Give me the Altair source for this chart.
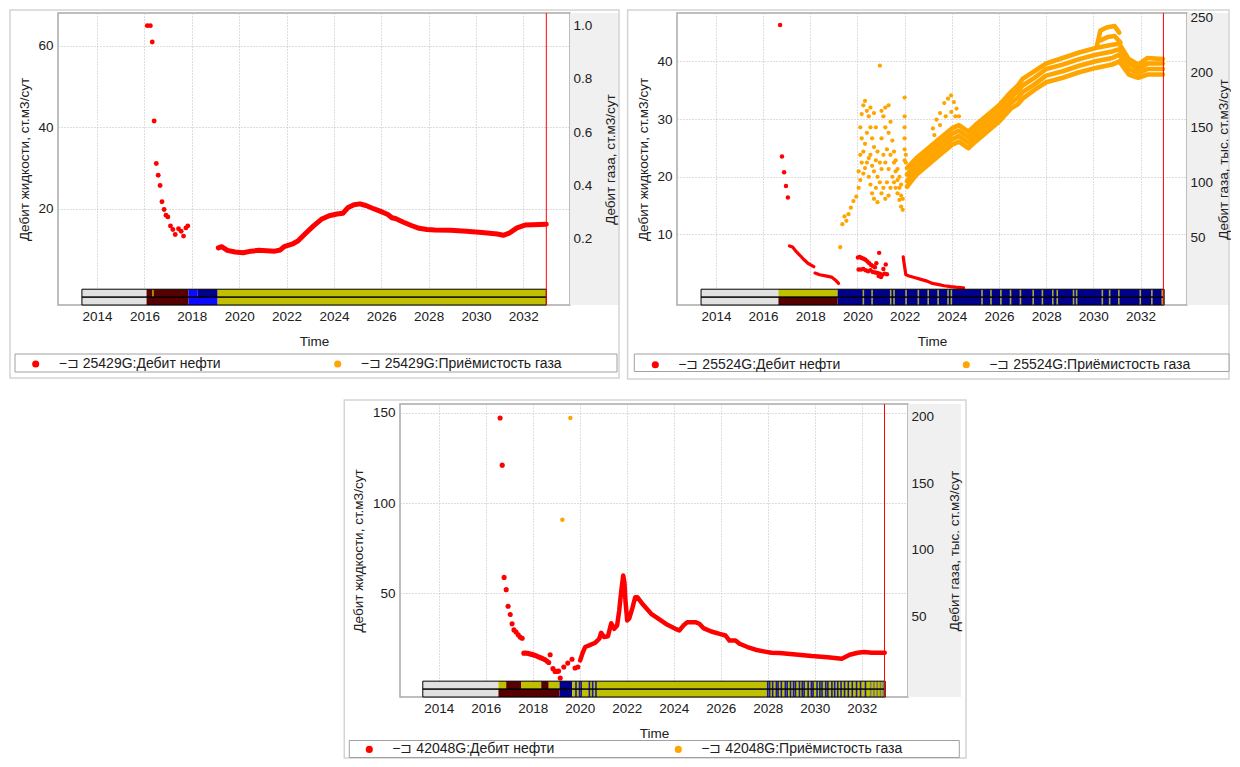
import altair as alt
import pandas as pd

FONT = "Liberation Sans"
TXT = "#202020"
RED = "#ff0000"
ORANGE = "#ffa500"
AXIS_BG = "#f0f0f0"
FRAME = "#d4d4d4"
LEG_BOX = "#a0a0a0"
C_LG, C_MR, C_OL, C_BL, C_NV = "#e1e1e1", "#570000", "#c0c000", "#0b0bff", "#00008b"
C_ST_OL, C_ST_NV, C_ST_GR = "#a8a83c", "#1a1aa6", "#7c7c66"

X_DOMAIN = [2012.35, 2033.97]
X_TICKS = [2014, 2016, 2018, 2020, 2022, 2024, 2026, 2028, 2030, 2032]
LIMIT_YEAR = 2032.97
STATUS_DOMAIN = [0, 37]
LEFT_TITLE = "Дебит жидкости, ст.м3/сут"
OIL = "Дебит нефти"
GAS = "Приёмистость газа"
PIN = "−⊐ "

# ---------------- Panel 1 : 25429G ----------------
P1_WELL = "25429G"
P1_RED_DOT_T = [2016.12, 2016.25, 2016.33, 2016.41, 2016.50, 2016.58, 2016.66, 2016.74, 2016.83, 2016.91,
                2016.99, 2017.10, 2017.20, 2017.30, 2017.44, 2017.55, 2017.65, 2017.75, 2017.83]
P1_RED_DOT_V = [64.9, 64.9, 60.9, 41.5, 31.1, 28.2, 25.7, 21.7, 19.8, 18.4,
                18.0, 15.8, 14.9, 13.7, 15.1, 14.5, 13.3, 15.3, 15.8]
P1_RED_LINE_T = [2019.12, 2019.26, 2019.50, 2019.83, 2020.17, 2020.50, 2020.83, 2021.16, 2021.50, 2021.74,
                 2021.90, 2022.23, 2022.48, 2022.81, 2023.14, 2023.47, 2023.80, 2024.13, 2024.38, 2024.60,
                 2024.85, 2025.10, 2025.35, 2025.60, 2025.95, 2026.28, 2026.45, 2026.60, 2026.94, 2027.27,
                 2027.60, 2027.93, 2028.26, 2028.93, 2029.59, 2030.25, 2030.90, 2031.15, 2031.40, 2031.73,
                 2032.07, 2032.40, 2032.97]
P1_RED_LINE_V = [10.4, 10.7, 9.8, 9.4, 9.2, 9.6, 9.8, 9.7, 9.6, 9.9,
                 10.7, 11.3, 12.1, 14.0, 15.8, 17.4, 18.3, 18.7, 18.9, 20.3,
                 21.0, 21.2, 20.8, 20.2, 19.4, 18.6, 17.8, 17.6, 16.7, 15.9,
                 15.2, 14.9, 14.8, 14.7, 14.5, 14.2, 13.8, 13.5, 14.0, 15.3,
                 16.0, 16.1, 16.2]
P1_YL_DOMAIN = [-3.6, 68.0]
P1_YL_TICKS = [20, 40, 60]
P1_YR_DOMAIN = [-0.05, 1.048]
P1_YR_TICKS = [0.2, 0.4, 0.6, 0.8, 1.0]
P1_YR_TITLE = "Дебит газа, ст.м3/сут"
P1_STATUS_TOP = [(2013.36, 2016.09, C_LG), (2016.09, 2017.86, C_MR), (2016.33, 2016.39, C_OL),
                 (2017.86, 2018.25, C_BL), (2018.25, 2019.09, C_NV), (2019.09, 2032.97, C_OL)]
P1_STATUS_BOTTOM = [(2013.36, 2016.09, C_LG), (2016.09, 2017.86, C_MR),
                    (2017.86, 2019.09, C_BL), (2019.09, 2032.97, C_OL)]

# ---------------- Panel 2 : 25524G ----------------
P2_WELL = "25524G"
P2_RED_DOT_T = [2016.72, 2016.80, 2016.89, 2016.97, 2017.05,
                2020.02, 2020.10, 2020.18, 2020.26, 2020.34, 2020.42, 2020.50, 2020.58, 2020.66, 2020.74, 2020.80,
                2020.05, 2020.15, 2020.25, 2020.35, 2020.45, 2020.55, 2020.65, 2020.75, 2020.85, 2020.95,
                2020.92, 2020.90, 2021.00, 2021.05, 2021.10, 2021.15, 2021.20, 2021.25]
P2_RED_DOT_V = [46.3, 23.5, 20.8, 18.4, 16.4,
                6.0, 6.1, 5.9, 5.8, 5.6, 5.3, 5.0, 4.7, 4.5, 4.3, 5.0,
                3.9, 3.9, 4.0, 3.8, 3.6, 3.8, 3.5, 3.4, 3.3, 3.2,
                6.8, 2.8, 2.6, 3.0, 4.0, 3.2, 4.8, 3.1]
P2_RED_A_T = [2017.12, 2017.25, 2017.41, 2017.58, 2017.74, 2017.90, 2018.07, 2018.15]
P2_RED_A_V = [8.0, 7.8, 7.0, 6.3, 5.6, 5.0, 4.6, 4.4]
P2_RED_B_T = [2018.20, 2018.40, 2018.65, 2018.90, 2019.06, 2019.20]
P2_RED_B_V = [3.3, 3.0, 2.8, 2.6, 2.1, 1.5]
P2_RED_C_T = [2021.94, 2021.97, 2022.00, 2022.05, 2022.19, 2022.45, 2022.69, 2022.95, 2023.18, 2023.45,
              2023.68, 2023.95, 2024.17, 2024.50]
P2_RED_C_V = [6.1, 5.2, 4.4, 3.0, 2.8, 2.5, 2.2, 1.9, 1.5, 1.3, 1.1, 0.95, 0.85, 0.74]
P2_ORG_DOT_T = [2019.27, 2019.36, 2019.45, 2019.53, 2019.62, 2019.72, 2019.83, 2019.95,
                2020.05, 2020.05, 2020.12, 2020.12, 2020.12, 2020.18, 2020.18, 2020.18,
                2020.25, 2020.25, 2020.25, 2020.32, 2020.32, 2020.32, 2020.40, 2020.40, 2020.40,
                2020.48, 2020.48, 2020.48, 2020.55, 2020.55, 2020.55, 2020.55,
                2020.62, 2020.62, 2020.62, 2020.70, 2020.70, 2020.70, 2020.70,
                2020.78, 2020.78, 2020.78, 2020.85, 2020.85, 2020.85, 2020.95, 2020.95, 2020.95,
                2021.02, 2021.02, 2021.02, 2021.02, 2021.10, 2021.10, 2021.10,
                2021.18, 2021.18, 2021.18, 2021.18, 2021.25, 2021.25,
                2021.32, 2021.32, 2021.32, 2021.32, 2021.40, 2021.40, 2021.40, 2021.48, 2021.48,
                2021.55, 2021.55, 2021.55, 2021.62, 2021.62, 2021.62, 2021.70, 2021.70, 2021.70,
                2021.78, 2021.78, 2021.78, 2021.85, 2021.85, 2021.85, 2021.92, 2021.92,
                2022.00, 2022.00, 2022.00, 2022.00, 2022.00, 2022.00, 2022.05, 2022.05,
                2023.20, 2023.35, 2023.50, 2023.68, 2023.84, 2023.97, 2024.09, 2024.20, 2024.30,
                2023.26, 2023.50, 2023.74, 2023.98, 2024.15]
P2_ORG_DOT_V = [41, 62, 69, 65, 71, 77, 83, 87,
                95, 110, 102, 125, 150, 118, 140, 162,
                108, 128, 170, 113, 135, 174, 118, 145, 165,
                105, 122, 160, 98, 125, 150, 168,
                90, 115, 140, 85, 110, 132, 163,
                95, 120, 150, 82, 105, 128, 206, 100, 118,
                90, 112, 140, 165, 95, 125, 160,
                85, 118, 150, 168, 100, 130,
                88, 112, 145, 170, 95, 125, 155, 105, 138,
                100, 118, 128, 95, 110, 120, 90, 102, 112,
                84, 95, 105, 78, 88, 98, 75, 85,
                177, 160, 150, 140, 130, 120, 125, 118,
                149, 157, 163, 172, 176, 179, 173, 167, 160,
                143, 152, 160, 164, 160]
P2_BAND_T = [2022.10, 2022.50, 2023.00, 2023.50, 2024.00, 2024.30, 2024.70, 2025.00, 2025.50, 2026.00,
             2026.50, 2026.80, 2027.00, 2027.50, 2028.00, 2028.70, 2029.40, 2030.10, 2030.80, 2031.10,
             2031.50, 2031.90, 2032.30, 2032.95]
P2_BAND_L0 = [96, 107, 116, 125, 134, 137, 131, 137, 146, 155, 167, 171, 176, 184, 191, 195, 200, 204, 207, 210,
              198, 195, 198, 198]
P2_BAND_L1 = [101, 112, 121, 130, 139, 142, 136, 142, 151, 160, 172, 177, 182, 189, 197, 201, 206, 210, 213, 216,
              203, 199, 203, 203]
P2_BAND_L2 = [107, 117, 126, 135, 144, 147, 141, 147, 156, 165, 177, 183, 188, 195, 203, 207, 212, 216, 219, 221,
              208, 203, 208, 208]
P2_BAND_L3 = [113, 122, 131, 140, 149, 152, 146, 152, 161, 170, 182, 188, 194, 201, 208, 213, 218, 222, 225, 226,
              212, 207, 213, 212]
P2_UP1_T = [2030.15, 2030.30, 2030.60, 2030.90, 2031.10]
P2_UP1_V = [224, 238, 241, 242, 236]
P2_UP2_T = [2030.30, 2030.60, 2030.90, 2031.15]
P2_UP2_V = [229, 232, 233, 227]
P2_YL_DOMAIN = [-2.24, 48.4]
P2_YL_TICKS = [10, 20, 30, 40]
P2_YR_DOMAIN = [-11.5, 253.9]
P2_YR_TICKS = [50, 100, 150, 200, 250]
P2_YR_TITLE = "Дебит газа, тыс. ст.м3/сут"
P2_STATUS_TOP = [(2013.37, 2016.65, C_LG), (2016.65, 2019.16, C_OL), (2019.16, 2033.00, C_NV)]
P2_STATUS_BOTTOM = [(2013.37, 2016.65, C_LG), (2016.65, 2019.16, C_MR), (2019.16, 2033.00, C_NV)]
P2_STRIPES = [2020.25, 2020.62, 2021.41, 2021.55, 2022.06, 2022.58, 2023.00, 2023.42, 2023.84, 2023.98,
              2025.28, 2025.66, 2026.08, 2026.49, 2026.91, 2027.45, 2027.84, 2028.28, 2028.47, 2029.16,
              2029.29, 2030.38, 2030.69, 2031.08, 2031.99, 2032.48, 2032.92]

# ---------------- Panel 3 : 42048G ----------------
P3_WELL = "42048G"
P3_RED_DOT_T = [2016.61, 2016.70, 2016.78, 2016.87, 2016.95, 2017.04, 2017.12, 2017.20, 2017.29, 2017.38,
                2017.46, 2017.55, 2017.62, 2017.70, 2017.79, 2017.88, 2017.97, 2018.06, 2018.15, 2018.24,
                2018.33, 2018.42, 2018.51, 2018.60, 2018.68, 2018.74, 2018.86, 2018.95, 2019.04, 2019.10,
                2019.17, 2019.32, 2019.49, 2019.67, 2019.80, 2019.92]
P3_RED_DOT_V = [147.1, 121.0, 58.8, 52.0, 42.8, 38.2, 33.1, 29.7, 28.5, 27.0,
                25.7, 25.1, 16.8, 16.9, 16.7, 16.4, 16.1, 15.7, 15.3, 14.8,
                14.3, 13.8, 13.3, 12.4, 11.6, 15.9, 8.2, 6.7, 6.7, 6.9,
                3.0, 9.1, 11.3, 13.4, 8.6, 9.1]
P3_RED_LINE_T = [2020.02, 2020.11, 2020.23, 2020.40, 2020.66, 2020.83, 2020.91, 2021.03, 2021.20, 2021.34,
                 2021.47, 2021.59, 2021.68, 2021.76, 2021.85, 2021.90, 2021.95, 2022.02, 2022.11, 2022.23,
                 2022.36, 2022.45, 2022.70, 2023.04, 2023.39, 2023.73, 2024.07, 2024.24, 2024.41, 2024.58,
                 2024.92, 2025.09, 2025.26, 2025.60, 2025.95, 2026.20, 2026.37, 2026.63, 2026.80, 2027.14,
                 2027.48, 2027.82, 2028.16, 2028.50, 2029.19, 2029.87, 2030.55, 2031.15, 2031.49, 2031.83,
                 2032.09, 2032.43, 2032.98]
P3_RED_LINE_V = [12.8, 16.5, 20.2, 21.1, 22.6, 24.8, 28.1, 25.7, 26.2, 33.4,
                 30.3, 32.1, 40.4, 50.6, 59.8, 56.1, 45.0, 34.9, 36.2, 41.3,
                 47.8, 47.8, 43.6, 38.6, 35.5, 32.5, 30.3, 29.4, 32.1, 34.0,
                 34.0, 33.1, 30.7, 28.8, 27.5, 26.6, 23.8, 23.8, 22.0, 20.2,
                 18.7, 17.8, 17.0, 16.9, 16.1, 15.2, 14.5, 13.7, 15.9, 17.0,
                 17.4, 17.0, 17.0]
P3_ORG_DOT_T = [2019.26, 2019.60]
P3_ORG_DOT_V = [122.6, 199.0]
P3_YL_DOMAIN = [-7.5, 154.9]
P3_YL_TICKS = [50, 100, 150]
P3_YR_DOMAIN = [-10.5, 209.5]
P3_YR_TICKS = [50, 100, 150, 200]
P3_YR_TITLE = "Дебит газа, тыс. ст.м3/сут"
P3_STATUS_TOP = [(2013.32, 2016.54, C_LG), (2016.54, 2016.87, C_OL), (2016.87, 2017.50, C_MR),
                 (2017.50, 2018.36, C_OL), (2018.36, 2018.68, C_MR), (2018.68, 2019.14, C_OL),
                 (2019.14, 2019.68, C_NV), (2019.68, 2033.00, C_OL)]
P3_STATUS_BOTTOM = [(2013.32, 2016.54, C_LG), (2016.54, 2019.14, C_MR),
                    (2019.14, 2019.68, C_NV), (2019.68, 2033.00, C_OL)]
P3_STRIPES_NAVY = [2019.84, 2019.99, 2020.06, 2020.41, 2020.55, 2020.69,
                   2028.00, 2028.08, 2028.21, 2028.37, 2028.44, 2028.58, 2028.75, 2028.83, 2028.97, 2029.10,
                   2029.18, 2029.35, 2029.47, 2029.55, 2029.72, 2029.86, 2029.93, 2030.10, 2030.22, 2030.31,
                   2030.47, 2030.56, 2030.73, 2030.85, 2030.98, 2031.12, 2031.27, 2031.43, 2031.60, 2031.78,
                   2031.95, 2032.16]
P3_STRIPES_GRAY = [2032.38, 2032.52, 2032.66, 2032.80, 2032.92]

ONE = pd.DataFrame({"k": [0]})


def xenc(field="t"):
    return alt.X(f"{field}:Q",
                 scale=alt.Scale(domain=X_DOMAIN, nice=False, zero=False),
                 axis=alt.Axis(values=X_TICKS, format="d", title="Time", grid=True,
                               labelPadding=4, titlePadding=12))


def deco(x0, x1, y0, y1, **kw):
    return alt.Chart(ONE).mark_rect(**kw).encode(
        x=alt.value(x0), x2=alt.value(x1), y=alt.value(y0), y2=alt.value(y1))


def sdf(ts, vs, name, group="g"):
    return pd.DataFrame({"t": ts, "v": vs, "s": [name] * len(ts), "g": [group] * len(ts)})


def build_panel(p):
    W, H = p["W"], p["H"]
    names = [PIN + p["well"] + ":" + OIL, PIN + p["well"] + ":" + GAS]
    color = alt.Color("s:N", scale=alt.Scale(domain=names, range=[RED, ORANGE]),
                      legend=alt.Legend(orient="none", legendX=p["leg_x"], legendY=p["leg_y"],
                                        direction="horizontal", title=None, symbolType="circle",
                                        symbolSize=50, symbolStrokeWidth=0, labelOffset=16,
                                        columnPadding=p["leg_gap"], padding=0, labelLimit=500,
                                        labelFont=FONT, labelFontSize=14, labelColor=TXT))
    yl = alt.Y("v:Q", scale=alt.Scale(domain=p["yl_dom"], nice=False, zero=False),
               axis=alt.Axis(values=p["yl_ticks"], title=LEFT_TITLE, orient="left", grid=True,
                             labelPadding=5, titlePadding=p["yl_tpad"]))
    yr = alt.Y("v:Q", scale=alt.Scale(domain=p["yr_dom"], nice=False, zero=False),
               axis=alt.Axis(values=p["yr_ticks"], title=p["yr_title"], orient="right", grid=False,
                             format=p["yr_fmt"], labelPadding=3, titlePadding=p["yr_tpad"],
                             titleAngle=270, titleBaseline="top", zindex=2))

    red_dots = alt.Chart(sdf(p["red_t"], p["red_v"], names[0])).mark_circle(
        size=p["red_size"], opacity=1).encode(x=xenc(), y=yl, color=color)
    left_layers = [red_dots]
    if p["red_lines"]:
        lines = pd.concat([sdf(t, v, names[0], g) for g, (t, v) in enumerate(p["red_lines"])])
        left_layers.append(alt.Chart(lines).mark_line(
            color=RED, strokeWidth=p["red_w"], strokeCap="round", strokeJoin="round").encode(
            x=xenc(), y=yl, detail="g:N"))
    left = alt.layer(*left_layers)

    org_dots = alt.Chart(sdf(p["org_t"], p["org_v"], names[1])).mark_circle(
        size=p["org_size"], opacity=1).encode(x=xenc(), y=yr, color=color)
    right_layers = [org_dots]
    if p["org_lines"]:
        lines = pd.concat([sdf(t, v, names[1], g) for g, (t, v) in enumerate(p["org_lines"])])
        right_layers.append(alt.Chart(lines).mark_line(
            color=ORANGE, strokeWidth=p["org_w"], strokeCap="round", strokeJoin="round").encode(
            x=xenc(), y=yr, detail="g:N"))
    right = alt.layer(*right_layers)

    ys = alt.Scale(domain=STATUS_DOMAIN, nice=False, zero=False)
    seg_rows = ([{"a": a, "b": b, "c": c, "row": 1} for a, b, c in p["st_top"]] +
                [{"a": a, "b": b, "c": c, "row": 0} for a, b, c in p["st_bot"]])
    segs = alt.Chart(pd.DataFrame(seg_rows)).transform_calculate(hi="datum.row + 1").mark_rect().encode(
        x=xenc("a"), x2="b:Q", y=alt.Y("row:Q", scale=ys, axis=None), y2="hi:Q",
        fill=alt.Fill("c:N", scale=None))
    status_layers = [segs]
    if p["stripes"]:
        st_rows = [{"t": t, "c": c} for ts, c in p["stripes"] for t in ts]
        status_layers.append(alt.Chart(pd.DataFrame(st_rows)).transform_calculate(
            lo="0", hi="2").mark_rule(strokeWidth=1.6).encode(
            x=xenc("t"), y=alt.Y("lo:Q", scale=ys, axis=None), y2="hi:Q",
            stroke=alt.Stroke("c:N", scale=None)))
    bar_a, bar_b = p["st_top"][0][0], p["st_top"][-1][1]
    status_layers.append(alt.Chart(pd.DataFrame({"a": [bar_a, bar_a], "b": [bar_b, bar_b], "row": [1, 0]}))
                         .transform_calculate(hi="datum.row + 1")
                         .mark_rect(fill="transparent", stroke="#000000", strokeWidth=1).encode(
        x=xenc("a"), x2="b:Q", y=alt.Y("row:Q", scale=ys, axis=None), y2="hi:Q"))
    status = alt.layer(*status_layers)

    limit = alt.Chart(pd.DataFrame({"t": [LIMIT_YEAR]})).mark_rule(color=RED, strokeWidth=1).encode(x=xenc())

    fx0, fx1, fy0, fy1 = p["frame"]
    lx0, lx1, ly0, ly1 = p["legbox"]
    layers = [deco(W, W + p["gray_w"], 0, H, fill=AXIS_BG),
              deco(fx0, fx1, fy0, fy1, fill="transparent", stroke=FRAME, strokeWidth=1.5),
              deco(lx0, lx1, ly0, ly1, fill="white", stroke=LEG_BOX, strokeWidth=1),
              left, right, status, limit]
    return alt.layer(*layers).resolve_scale(y="independent").properties(width=W, height=H)


p1 = build_panel(dict(
    W=512, H=292, well=P1_WELL,
    red_t=P1_RED_DOT_T, red_v=P1_RED_DOT_V, red_lines=[(P1_RED_LINE_T, P1_RED_LINE_V)],
    org_t=[], org_v=[], org_lines=[],
    red_size=24, org_size=18, red_w=5, org_w=3,
    yl_dom=P1_YL_DOMAIN, yl_ticks=P1_YL_TICKS, yl_tpad=6,
    yr_dom=P1_YR_DOMAIN, yr_ticks=P1_YR_TICKS, yr_fmt=".1f", yr_title=P1_YR_TITLE, yr_tpad=12,
    st_top=P1_STATUS_TOP, st_bot=P1_STATUS_BOTTOM, stripes=[],
    leg_x=-29.3, leg_y=344, leg_gap=110,
    frame=(-48, 561, -3, 365), legbox=(-43, 559, 341, 359), gray_w=49,
))

p2 = build_panel(dict(
    W=510, H=292, well=P2_WELL,
    red_t=P2_RED_DOT_T, red_v=P2_RED_DOT_V,
    red_lines=[(P2_RED_A_T, P2_RED_A_V), (P2_RED_B_T, P2_RED_B_V), (P2_RED_C_T, P2_RED_C_V)],
    org_t=P2_ORG_DOT_T, org_v=P2_ORG_DOT_V,
    org_lines=[(P2_BAND_T, P2_BAND_L0), (P2_BAND_T, P2_BAND_L1), (P2_BAND_T, P2_BAND_L2),
               (P2_BAND_T, P2_BAND_L3), (P2_UP1_T, P2_UP1_V), (P2_UP2_T, P2_UP2_V)],
    red_size=20, org_size=18, red_w=3.2, org_w=4.6,
    yl_dom=P2_YL_DOMAIN, yl_ticks=P2_YL_TICKS, yl_tpad=6,
    yr_dom=P2_YR_DOMAIN, yr_ticks=P2_YR_TICKS, yr_fmt="d", yr_title=P2_YR_TITLE, yr_tpad=4,
    st_top=P2_STATUS_TOP, st_bot=P2_STATUS_BOTTOM, stripes=[(P2_STRIPES, C_ST_OL)],
    leg_x=-28.7, leg_y=344.7, leg_gap=119,
    frame=(-49.4, 552, -3, 366), legbox=(-42.7, 552, 341, 358.5), gray_w=42,
))

p3 = build_panel(dict(
    W=508, H=293, well=P3_WELL,
    red_t=P3_RED_DOT_T, red_v=P3_RED_DOT_V, red_lines=[(P3_RED_LINE_T, P3_RED_LINE_V)],
    org_t=P3_ORG_DOT_T, org_v=P3_ORG_DOT_V, org_lines=[],
    red_size=26, org_size=20, red_w=4.5, org_w=3,
    yl_dom=P3_YL_DOMAIN, yl_ticks=P3_YL_TICKS, yl_tpad=7,
    yr_dom=P3_YR_DOMAIN, yr_ticks=P3_YR_TICKS, yr_fmt="d", yr_title=P3_YR_TITLE, yr_tpad=14,
    st_top=P3_STATUS_TOP, st_bot=P3_STATUS_BOTTOM,
    stripes=[(P3_STRIPES_NAVY, C_ST_NV), (P3_STRIPES_GRAY, C_ST_GR)],
    leg_x=-37.7, leg_y=338.4, leg_gap=117,
    frame=(-55.7, 566, -4, 354), legbox=(-50.7, 559.3, 336.5, 353.5), gray_w=53,
))

# empty spacer that pushes the third panel to the middle of the second row
spacer = alt.Chart(ONE).mark_rect(fill="white").encode(
    x=alt.value(0), x2=alt.value(1), y=alt.value(0), y2=alt.value(1)
).properties(width=279, height=1, view=alt.ViewBackground(stroke="transparent"))

row1 = alt.hconcat(p1, p2, spacing=5).resolve_scale(color="independent").resolve_legend(color="independent")
row2 = alt.hconcat(spacer, p3, spacing=4).resolve_scale(color="independent").resolve_legend(color="independent")
chart = alt.vconcat(row1, row2, spacing=17).resolve_scale(color="independent").resolve_legend(color="independent")
chart = chart.properties(padding={"left": 0, "top": 0, "right": 0, "bottom": 0},
                         background="white").configure(font=FONT, padding=0).configure_axis(
    labelFont=FONT, titleFont=FONT, labelFontSize=13.5, titleFontSize=13.5, titleFontWeight="normal",
    labelColor=TXT, titleColor=TXT, domain=False, ticks=False,
    gridColor="#bcbcbc", gridDash=[1, 2], gridWidth=1,
).configure_view(stroke="#a9a9a9", strokeWidth=1.5).configure_legend(
    labelFont=FONT, labelFontSize=14, labelColor=TXT)

chart.save("out.html", embed_options={"renderer": "svg", "actions": False})
